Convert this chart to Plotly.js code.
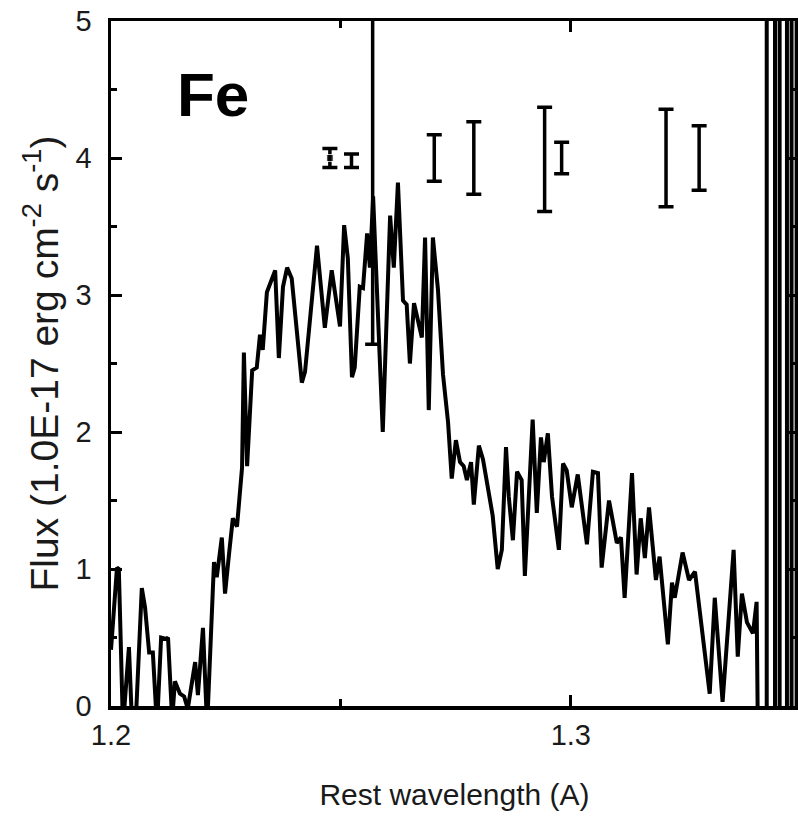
<!DOCTYPE html>
<html><head><meta charset="utf-8">
<script src="https://cdn.plot.ly/plotly-3.0.1.min.js"></script>
<style>body{margin:0;padding:0;background:#fff}</style>
</head><body>
<div id="chart" style="width:798px;height:822px"></div>
<script>
// Spectrum: rest wavelength (A) and flux (1e-17 erg cm^-2 s^-1)
const wavelength = [
1.2000,1.2004,1.2013,1.2017,1.2026,1.2039,1.2046,1.2054,1.2067,1.2074,
1.2083,1.2091,1.2100,1.2109,1.2120,1.2124,1.2133,1.2139,1.2150,1.2159,
1.2167,1.2183,1.2189,1.2200,1.2209,1.2224,1.2230,1.2241,1.2248,1.2257,
1.2265,1.2274,1.2285,1.2289,1.2296,1.2307,1.2317,1.2324,1.2330,1.2339,
1.2357,1.2365,1.2374,1.2383,1.2393,1.2415,1.2422,1.2448,1.2465,1.2480,
1.2498,1.2507,1.2515,1.2524,1.2530,1.2541,1.2548,1.2557,1.2563,1.2570,
1.2576,1.2591,1.2607,1.2615,1.2624,1.2635,1.2643,1.2650,1.2659,1.2676,
1.2683,1.2691,1.2700,1.2711,1.2722,1.2733,1.2741,1.2750,1.2759,1.2767,
1.2774,1.2783,1.2789,1.2800,1.2809,1.2822,1.2830,1.2841,1.2850,1.2859,
1.2865,1.2874,1.2883,1.2893,1.2900,1.2917,1.2926,1.2935,1.2941,1.2950,
1.2959,1.2974,1.2983,1.2991,1.3002,1.3015,1.3035,1.3048,1.3059,1.3067,
1.3083,1.3100,1.3109,1.3117,1.3133,1.3143,1.3152,1.3161,1.3170,1.3185,
1.3193,1.3211,1.3220,1.3226,1.3243,1.3257,1.3270,1.3302,1.3313,1.3330,
1.3354,1.3363,1.3372,1.3383,1.3396,1.3404,1.3409,
1.3426,1.3426,1.3444,1.3444,1.3454,1.3454,1.3470,1.3470,1.3480,1.3480,1.3491,1.3491
];
const flux = [
0.41,0.63,1.01,1.00,-0.15,0.43,-0.15,-0.10,0.86,0.72,
0.39,0.39,-0.15,0.50,0.49,0.50,-0.10,0.18,0.09,0.07,
-0.02,0.32,0.08,0.57,-0.15,1.05,0.94,1.23,0.82,1.12,
1.37,1.31,1.74,2.58,1.75,2.45,2.47,2.71,2.60,3.02,
3.18,2.54,3.06,3.20,3.12,2.36,2.44,3.36,2.76,3.18,
2.77,3.51,3.27,2.40,2.47,3.06,3.05,3.45,3.20,3.72,
3.26,2.00,3.58,3.20,3.82,2.96,2.93,2.50,2.94,2.69,
3.42,2.16,3.42,3.04,2.42,2.07,1.66,1.94,1.78,1.75,
1.65,1.78,1.47,1.90,1.80,1.55,1.39,1.00,1.14,1.89,
1.53,1.21,1.71,1.65,0.95,2.09,1.41,1.96,1.78,1.99,
1.53,1.14,1.77,1.72,1.45,1.69,1.18,1.71,1.70,1.01,
1.50,1.19,1.23,0.79,1.70,0.96,1.37,1.08,1.45,0.92,
1.09,0.45,0.90,0.79,1.12,0.92,0.98,0.09,0.79,0.03,
1.14,0.36,0.82,0.61,0.53,0.76,-1.0,
-1.0,7.0,7.0,-1.0,-1.0,7.0,7.0,-1.0,-1.0,7.0,7.0,-1.0
];
// Error bars shown above the spectrum
const errWave  = [1.2476,1.2523,1.2703,1.2789,1.2943,1.2980,1.3207,1.3279,1.2569];
const errFlux  = [4.00,3.98,4.00,4.00,3.99,4.00,4.00,4.00,2.64];
const errPlus  = [0.07,0.05,0.17,0.265,0.38,0.115,0.355,0.235,5.0];
const errMinus = [0.07,0.05,0.17,0.265,0.38,0.115,0.355,0.235,0.0];
const markerSizes = [7,0,0,0,0,0,0,0,0];

const xTickVals = [1.2, 1.3];
const xTickText = ['1.2', '1.3'];
const yTickVals = [0, 1, 2, 3, 4, 5];
const yTickText = ['0', '1', '2', '3', '4', '5'];

const sans = 'Liberation Sans, Arial, sans-serif';

const traces = [
  {
    x: wavelength, y: flux, type: 'scatter', mode: 'lines',
    line: {color: '#000', width: 4}, hoverinfo: 'x+y'
  },
  {
    x: errWave, y: errFlux, type: 'scatter', mode: 'markers',
    marker: {color: '#000', size: markerSizes, symbol: 'square'},
    error_y: {type: 'data', symmetric: false, array: errPlus, arrayminus: errMinus,
              color: '#000', thickness: 3.5, width: 7.5}
  }
];

const layout = {
  width: 798, height: 822,
  margin: {l: 111, r: 0, t: 21, b: 116, pad: 0},
  paper_bgcolor: '#fff', plot_bgcolor: '#fff',
  showlegend: false,
  xaxis: {
    range: [1.2, 1.3494], showgrid: false, zeroline: false,
    showline: true, linecolor: '#000', linewidth: 3.5, mirror: 'ticks',
    ticks: 'inside', ticklen: 11, tickwidth: 3, tickcolor: '#000',
    tickvals: xTickVals, ticktext: xTickText,
    minor: {ticks: 'inside', ticklen: 7, tickwidth: 3, tickcolor: '#000', tickvals: [1.25]},
    tickfont: {family: sans, size: 29, color: '#1a1a1a'},
    ticklabelstandoff: 1,
    title: {text: 'Rest wavelength (A)', font: {family: sans, size: 30, color: '#1a1a1a'}, standoff: 34}
  },
  yaxis: {
    range: [0, 5], showgrid: false, zeroline: false,
    showline: true, linecolor: '#000', linewidth: 3.5, mirror: 'ticks',
    ticks: 'inside', ticklen: 11, tickwidth: 3, tickcolor: '#000',
    tickvals: yTickVals, ticktext: yTickText,
    minor: {ticks: 'inside', ticklen: 6, tickwidth: 3, tickcolor: '#000', tickvals: [0.5,1.5,2.5,3.5,4.5]},
    tickfont: {family: sans, size: 29, color: '#1a1a1a'},
    ticklabelstandoff: 10,
    title: {text: 'Flux (1.0E-17 erg cm<sup>-2</sup> s<sup>-1</sup>)', font: {family: sans, size: 39, color: '#1a1a1a'}, standoff: 6}
  },
  annotations: [{
    x: 1.2222, y: 4.46, xref: 'x', yref: 'y', showarrow: false,
    xanchor: 'center', yanchor: 'middle',
    text: '<b>Fe</b>', font: {family: sans, size: 62, color: '#000'}
  }]
};

Plotly.newPlot('chart', traces, layout, {displayModeBar: false, staticPlot: true});
</script>
</body></html>
